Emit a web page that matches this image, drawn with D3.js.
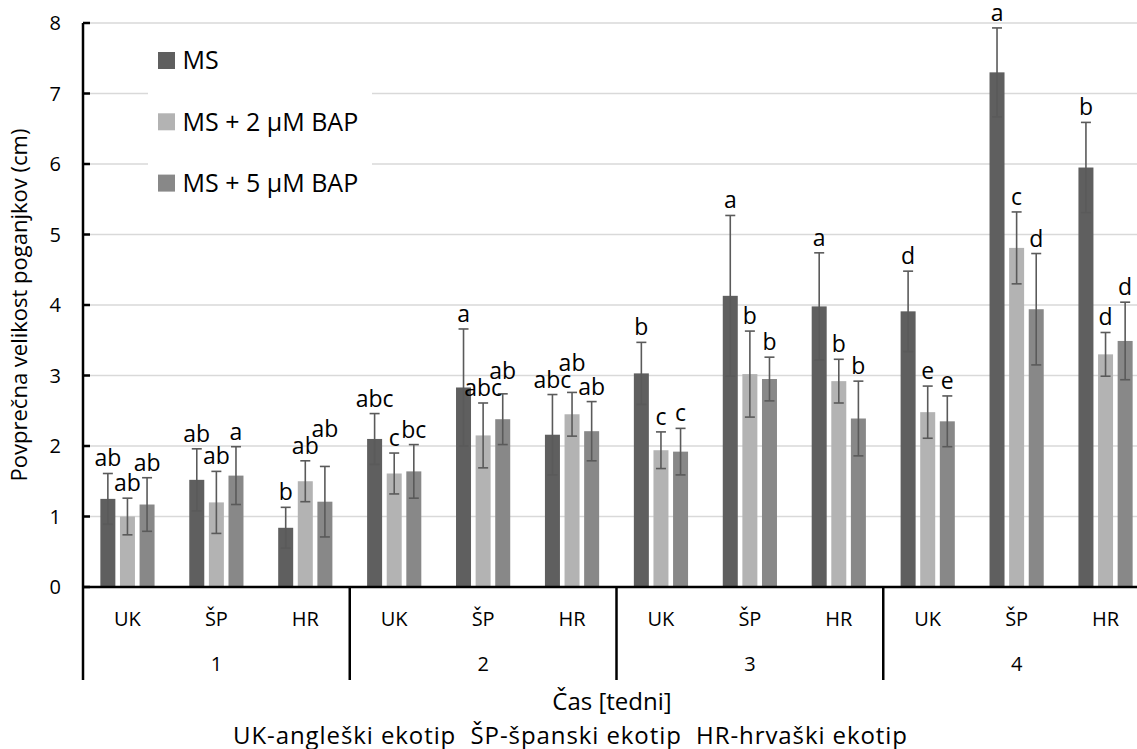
<!DOCTYPE html>
<html>
  <head>
    <meta charset="utf-8">
    <title>Povprečna velikost poganjkov</title>
    <style>
      body { margin: 0; background: #fff; }
      svg { display: block; font-family: 'Open Sans', sans-serif; }
    </style>
  </head>
  <body>
    <div class='chart-container'></div>
    <script src="https://cdn.jsdelivr.net/npm/d3@7/dist/d3.min.js"></script>
    <script>
// weeks, ecotypes and treatments
var weeks = ['1', '2', '3', '4'];
var ecotypes = ['UK', 'ŠP', 'HR'];
var seriesNames = ['MS', 'MS + 2 µM BAP', 'MS + 5 µM BAP'];
var yTicks = [0, 1, 2, 3, 4, 5, 6, 7, 8];

// means and error bars, in order week1 UK, ŠP, HR, week2 UK ...
var msMean = [1.25, 1.52, 0.84, 2.10, 2.83, 2.16, 3.03, 4.13, 3.98, 3.91, 7.30, 5.95];
var msErr = [0.36, 0.44, 0.29, 0.36, 0.83, 0.57, 0.44, 1.14, 0.76, 0.57, 0.63, 0.64];
var bap2Mean = [1.00, 1.20, 1.50, 1.61, 2.15, 2.45, 1.94, 3.02, 2.92, 2.48, 4.81, 3.30];
var bap2Err = [0.26, 0.44, 0.29, 0.29, 0.46, 0.31, 0.26, 0.61, 0.31, 0.37, 0.51, 0.31];
var bap5Mean = [1.17, 1.58, 1.21, 1.64, 2.38, 2.21, 1.92, 2.95, 2.39, 2.35, 3.94, 3.49];
var bap5Err = [0.38, 0.41, 0.50, 0.38, 0.36, 0.42, 0.33, 0.31, 0.53, 0.36, 0.79, 0.55];

// significance letters
var msLetters = ['ab', 'ab', 'b', 'abc', 'a', 'abc', 'b', 'a', 'a', 'd', 'a', 'b'];
var bap2Letters = ['ab', 'ab', 'ab', 'c', 'abc', 'ab', 'c', 'b', 'b', 'e', 'c', 'd'];
var bap5Letters = ['ab', 'a', 'ab', 'bc', 'ab', 'ab', 'c', 'b', 'b', 'e', 'd', 'd'];

var colors = ['#5f5f5f', '#b3b3b3', '#888888'];
var errColor = '#5a5a5a';

var width = 1137, height = 749;
var plotLeft = 83, plotRight = 1150, plotTop = 23, plotBottom = 587;

var series = [
  {name: seriesNames[0], mean: msMean, err: msErr, letters: msLetters},
  {name: seriesNames[1], mean: bap2Mean, err: bap2Err, letters: bap2Letters},
  {name: seriesNames[2], mean: bap5Mean, err: bap5Err, letters: bap5Letters}
];

// one category per week x ecotype
var categories = [];
weeks.forEach(w => ecotypes.forEach(e => categories.push(w + '|' + e)));

var xWeek = d3.scaleBand().domain(weeks).range([plotLeft, plotRight]);
var xCat = d3.scaleBand().domain(categories).range([plotLeft, plotRight]);
var xSeries = d3.scaleBand().domain(seriesNames)
    .range([-27.1, 27.1])
    .paddingInner(0.235);
var y = d3.scaleLinear().domain([0, 8]).range([plotBottom, plotTop]);

var svg = d3.select('.chart-container').append('svg')
    .attr('width', width)
    .attr('height', height);

// gridlines
svg.append('g')
    .selectAll('line')
    .data(yTicks.filter(d => d > 0))
    .enter().append('line')
    .attr('x1', plotLeft).attr('x2', width)
    .attr('y1', d => y(d)).attr('y2', d => y(d))
    .style('stroke', '#d9d9d9')
    .style('stroke-width', 1.5);

// legend box sits over the gridlines
svg.append('rect')
    .attr('x', 148).attr('y', 33)
    .attr('width', 224).attr('height', 182)
    .style('fill', '#fff');

var legend = svg.append('g').selectAll('g')
    .data(series)
    .enter().append('g')
    .attr('transform', (d, i) => 'translate(158,' + (60.5 + i * 61.3) + ')');
legend.append('rect')
    .attr('x', 0).attr('y', -8.5)
    .attr('width', 17).attr('height', 17)
    .style('fill', (d, i) => colors[i]);
legend.append('text')
    .attr('x', 24.5)
    .attr('dy', '0.35em')
    .style('font-size', '25px')
    .style('fill', '#000')
    .text(d => d.name);

// bars, error bars and letters
var labelRows = [];
series.forEach((s, si) => {
  var g = svg.append('g');
  var rows = categories.map((c, i) => ({
    cat: i,
    si: si,
    cx: xCat(c) + xCat.bandwidth() / 2 + xSeries(s.name) + xSeries.bandwidth() / 2,
    v: s.mean[i],
    e: s.err[i],
    l: s.letters[i]
  }));
  labelRows = labelRows.concat(rows);

  g.selectAll('rect')
    .data(rows)
    .enter().append('rect')
    .attr('x', d => d.cx - xSeries.bandwidth() / 2)
    .attr('y', d => y(d.v))
    .attr('width', xSeries.bandwidth())
    .attr('height', d => y(0) - y(d.v))
    .style('fill', colors[si]);

  var eb = g.selectAll('.err')
    .data(rows)
    .enter().append('g')
    .attr('class', 'err')
    .style('stroke', errColor)
    .style('stroke-width', 1.6);
  eb.append('line')
    .attr('x1', d => d.cx).attr('x2', d => d.cx)
    .attr('y1', d => y(d.v - d.e)).attr('y2', d => y(d.v + d.e));
  eb.append('line')
    .attr('x1', d => d.cx - 5).attr('x2', d => d.cx + 5)
    .attr('y1', d => y(d.v + d.e)).attr('y2', d => y(d.v + d.e));
  eb.append('line')
    .attr('x1', d => d.cx - 5).attr('x2', d => d.cx + 5)
    .attr('y1', d => y(d.v - d.e)).attr('y2', d => y(d.v - d.e));
});

// letters above the error bars, lifted when they would collide with the neighbour
var letters = svg.append('g').selectAll('text')
    .data(labelRows)
    .enter().append('text')
    .attr('x', d => d.cx)
    .attr('text-anchor', 'middle')
    .style('font-size', '23px')
    .style('fill', '#000')
    .text(d => d.l);

letters.each(function(d) {
  d.w = this.getComputedTextLength();
  d.base = y(d.v + d.e) - 7;
});
var byCat = d3.group(labelRows, d => d.cat);
byCat.forEach(list => {
  list.sort((a, b) => a.si - b.si);
  for (var i = 1; i < list.length; i++) {
    var cur = list[i], prev = list[i - 1];
    var xOverlap = Math.abs(cur.cx - prev.cx) < (cur.w + prev.w) / 2 + 1;
    if (xOverlap && Math.abs(cur.base - prev.base) < 17) {
      cur.base = prev.base - 17;
    }
  }
});
letters.attr('y', d => d.base);

// y axis
var yAxis = svg.append('g');
yAxis.append('line')
    .attr('x1', plotLeft).attr('x2', plotLeft)
    .attr('y1', plotTop).attr('y2', 680)
    .style('stroke', '#000').style('stroke-width', 2.5);
yAxis.selectAll('.tick')
    .data(yTicks)
    .enter().append('line')
    .attr('x1', plotLeft).attr('x2', plotLeft + 7)
    .attr('y1', d => y(d)).attr('y2', d => y(d))
    .style('stroke', '#000').style('stroke-width', 2.5);
yAxis.selectAll('text')
    .data(yTicks)
    .enter().append('text')
    .attr('x', 61)
    .attr('y', d => y(d))
    .attr('dy', '0.35em')
    .attr('text-anchor', 'end')
    .style('font-size', '20px')
    .text(d => d);

svg.append('text')
    .attr('transform', 'translate(27,' + ((plotTop + plotBottom) / 2) + ') rotate(-90)')
    .attr('text-anchor', 'middle')
    .style('font-size', '22px')
    .text('Povprečna velikost poganjkov (cm)');

// x axis with two levels of categories
var xAxis = svg.append('g');
xAxis.append('line')
    .attr('x1', plotLeft).attr('x2', width)
    .attr('y1', plotBottom).attr('y2', plotBottom)
    .style('stroke', '#000').style('stroke-width', 2.5);
xAxis.selectAll('.sep')
    .data(weeks.slice(1))
    .enter().append('line')
    .attr('x1', d => xWeek(d)).attr('x2', d => xWeek(d))
    .attr('y1', plotBottom).attr('y2', 680)
    .style('stroke', '#000').style('stroke-width', 2.5);
xAxis.selectAll('.cat')
    .data(categories)
    .enter().append('text')
    .attr('x', d => xCat(d) + xCat.bandwidth() / 2)
    .attr('y', 619)
    .attr('dy', '0.35em')
    .attr('text-anchor', 'middle')
    .style('font-size', '20px')
    .text(d => d.split('|')[1]);
xAxis.selectAll('.week')
    .data(weeks)
    .enter().append('text')
    .attr('x', d => xWeek(d) + xWeek.bandwidth() / 2)
    .attr('y', 664)
    .attr('dy', '0.35em')
    .attr('text-anchor', 'middle')
    .style('font-size', '20px')
    .text(d => d);

svg.append('text')
    .attr('x', 612).attr('y', 702)
    .attr('dy', '0.35em')
    .attr('text-anchor', 'middle')
    .style('font-size', '24px')
    .text('Čas [tedni]');
svg.append('text')
    .attr('x', 570).attr('y', 736)
    .attr('dy', '0.35em')
    .attr('text-anchor', 'middle')
    .attr('textLength', 674)
    .attr('lengthAdjust', 'spacing')
    .style('font-size', '24px')
    .style('white-space', 'pre')
    .text('UK-angleški ekotip  ŠP-španski ekotip  HR-hrvaški ekotip');
    </script>
  </body>
</html>
